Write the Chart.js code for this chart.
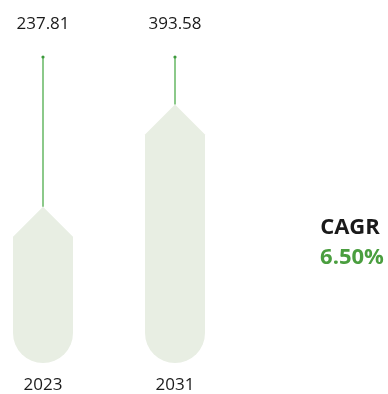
<!DOCTYPE html>
<html lang="en">
<head>
    <meta charset="UTF-8">
    <title>Market Size CAGR</title>
    <script src="https://cdn.jsdelivr.net/npm/chart.js"></script>
    <style>
        body { margin: 0; background: #fff; }
        #wrap { width: 388px; height: 394px; }
    </style>
</head>
<body>
    <div id="wrap"><canvas id="cagrChart"></canvas></div>

    <script>
        const years = ['2023', '2031'];
        const marketValues = [237.81, 393.58];
        const cagrLabel = 'CAGR';
        const cagrValue = '6.50%';

        const barFill = '#e8eee3';
        const stemColor = '#8cc98a';
        const dotColor = '#3d9a3d';
        const textColor = '#1a1a1a';
        const cagrColor = '#4a9e3f';

        // pencil-shaped bars: pointed top, round bottom, thin stem up to the value
        const pencilBars = {
            id: 'pencilBars',
            afterDatasetsDraw(chart) {
                const ctx = chart.ctx;
                const area = chart.chartArea;
                const meta = chart.getDatasetMeta(0);
                meta.data.forEach((bar, i) => {
                    const x = bar.x, top = bar.y, base = bar.base;
                    const half = bar.width / 2;

                    ctx.save();
                    ctx.fillStyle = barFill;
                    ctx.beginPath();
                    ctx.moveTo(x, top);
                    ctx.lineTo(x + half, top + half);
                    ctx.lineTo(x + half, base - half);
                    ctx.arc(x, base - half, half, 0, Math.PI);
                    ctx.lineTo(x - half, top + half);
                    ctx.closePath();
                    ctx.fill();

                    ctx.strokeStyle = stemColor;
                    ctx.lineWidth = 2;
                    ctx.beginPath();
                    ctx.moveTo(x, area.top);
                    ctx.lineTo(x, top);
                    ctx.stroke();

                    ctx.fillStyle = dotColor;
                    ctx.beginPath();
                    ctx.arc(x, area.top, 1.6, 0, Math.PI * 2);
                    ctx.fill();

                    ctx.fillStyle = textColor;
                    ctx.textAlign = 'center';
                    ctx.textBaseline = 'middle';
                    ctx.font = '17px "Open Sans", sans-serif';
                    ctx.fillText(marketValues[i].toFixed(2), x, area.top - 33);
                    ctx.fillText(years[i], x, base + 22);
                    ctx.restore();
                });

                ctx.save();
                ctx.textAlign = 'center';
                ctx.textBaseline = 'middle';
                ctx.font = 'bold 22px "Open Sans", sans-serif';
                ctx.fillStyle = textColor;
                ctx.fillText(cagrLabel, 350, 228);
                ctx.fillStyle = cagrColor;
                ctx.fillText(cagrValue, 352, 258);
                ctx.restore();
            }
        };

        new Chart(document.getElementById('cagrChart').getContext('2d'), {
            type: 'bar',
            data: {
                labels: years,
                datasets: [{
                    data: marketValues,
                    backgroundColor: 'rgba(0,0,0,0)',
                    borderWidth: 0,
                    barThickness: 60,
                    clip: false
                }]
            },
            options: {
                responsive: true,
                maintainAspectRatio: false,
                animation: false,
                layout: { padding: { left: 43, right: 213, top: 57, bottom: 31 } },
                plugins: { legend: { display: false }, tooltip: { enabled: false } },
                scales: {
                    x: { type: 'category', offset: false, display: false },
                    y: { display: false, min: 0, max: 466 }
                }
            },
            plugins: [pencilBars]
        });
    </script>
</body>
</html>
